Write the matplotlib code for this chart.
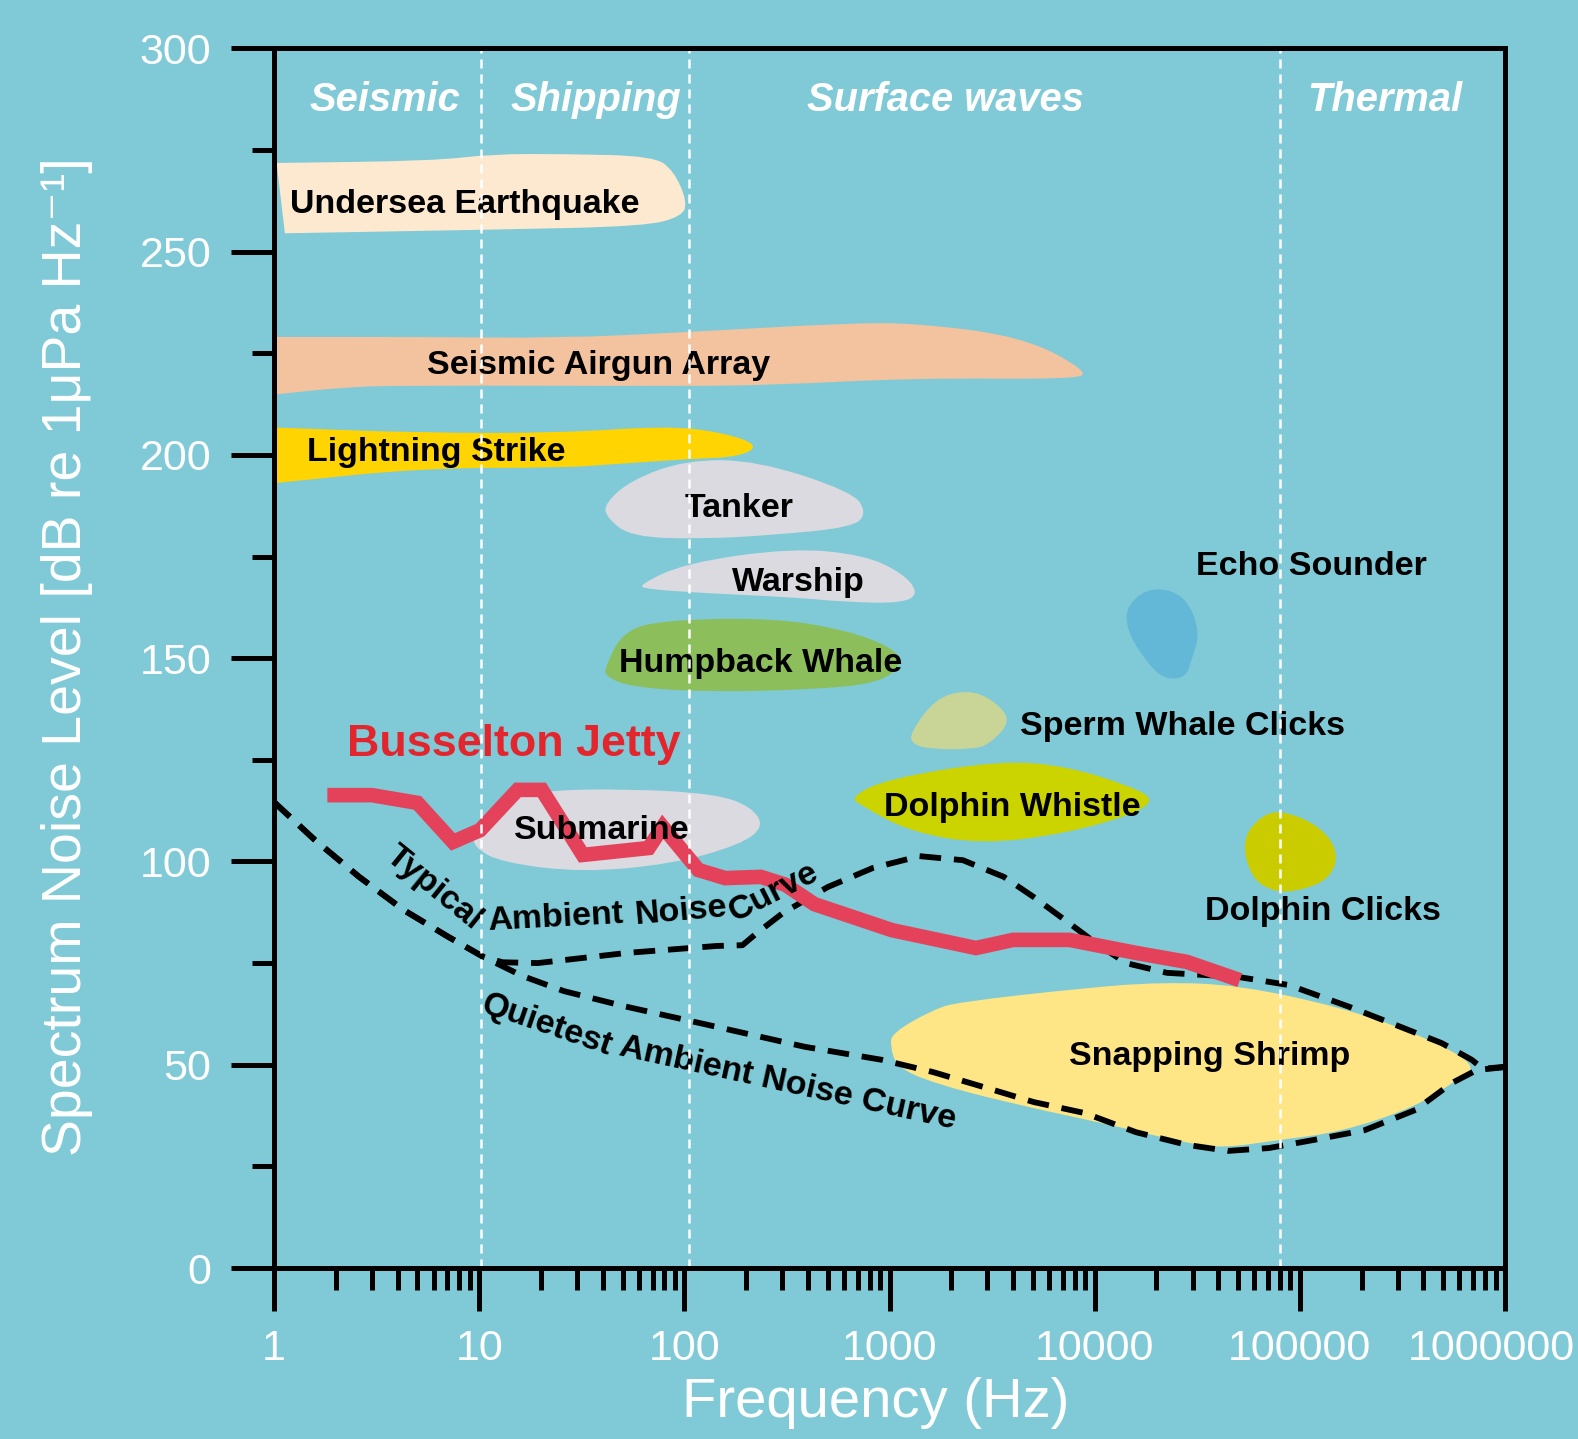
import matplotlib
matplotlib.use("Agg")
import numpy as np
import matplotlib.pyplot as plt
import matplotlib.transforms as mtransforms
from matplotlib.path import Path
from matplotlib.patches import PathPatch
from matplotlib.ticker import FixedLocator, FixedFormatter, MultipleLocator, LogLocator, NullFormatter

plt.rcParams['font.family'] = ['Liberation Sans', 'DejaVu Sans']

# ---------------- data ----------------
x_ticks = [1, 10, 100, 1000, 10000, 100000, 1000000]
x_tick_labels = ["1", "10", "100", "1000", "10000", "100000", "1000000"]
y_ticks = [0, 50, 100, 150, 200, 250, 300]

band_edges = [10.2, 105, 80000]
band_names = ["Seismic", "Shipping", "Surface waves", "Thermal"]
band_label_f = [3.49, 37, 1870, 2.6e5]
band_label_db = 287.3

typ_f = [1, 1.58, 2.6, 4.3, 7.1, 10.5, 13, 19.3, 52.5, 143, 192, 226, 302, 500, 830,
         1400, 2280, 3610, 5060, 7160, 10140, 14200, 22500, 49900, 88300, 175000,
         310000, 492000, 689000, 780000, 1000000]
typ_db = [114.6, 105.3, 96.2, 88.0, 81.4, 76.5, 75.2, 75.0, 77.5, 79.2, 79.4, 82.4, 87.3,
          93.7, 98.4, 101.3, 100.3, 96.2, 91.2, 85.6, 79.9, 75.0, 72.6, 71.6, 69.6, 64.2,
          59.3, 55.3, 51.2, 49.0, 49.5]

quiet_f = [1, 1.58, 2.6, 4.3, 7.1, 10.5, 16.3, 25.9, 50.8, 125, 387, 918, 1627, 2880,
           5060, 8960, 15900, 28100, 44600, 70600, 117000, 207000, 367000, 551000,
           729000, 1000000]
quiet_db = [114.6, 105.3, 96.2, 88.0, 81.4, 76.5, 71.8, 68.1, 64.4, 60.0, 54.4, 51.2,
            48.2, 44.5, 40.8, 38.1, 33.4, 30.3, 28.8, 29.5, 31.5, 33.9, 38.9, 45.5,
            48.7, 49.4]

jetty_f = [1.82, 3.0, 5.0, 7.45, 10.1, 15.4, 20.2, 32, 67, 78.5, 117, 158, 236, 310,
           430, 1027, 2640, 4000, 7550, 15900, 28100, 51000]
jetty_db = [116.3, 116.3, 114.4, 104.8, 107.7, 117.6, 117.6, 101.6, 103.3, 108.5, 97.9,
            95.9, 96.2, 94.3, 89.5, 83.1, 78.7, 80.7, 80.7, 77.5, 75.3, 70.8]

# source regions (outline: frequency in Hz, level in dB)
quake_f = [1.03, 5.9, 11.7, 25.8, 71, 89, 103, 98, 64, 11.7, 1.13]
quake_db = [271.8, 272.3, 274.0, 274.0, 273.5, 269.8, 262.4, 258.7, 256.2, 255.4, 254.5]

airgun_f = [1.03, 5.3, 24.8, 105, 613, 1360, 4520, 9370, 7920, 1360, 273, 105, 4.2, 2.15, 1.03]
airgun_db = [229.0, 229.0, 228.7, 230.2, 232.4, 232.4, 229.0, 220.4, 218.6, 218.9, 217.2,
             216.9, 217.1, 216.6, 214.9]

light_f = [1.03, 5.3, 24.8, 82, 151, 233, 185, 105, 45, 24.8, 5.3, 1.03]
light_db = [206.7, 205.4, 205.4, 207.1, 205.6, 202.4, 199.5, 199.0, 197.7, 196.8, 196.8, 193.1]

tanker_f = [41, 55, 101, 223, 663, 776, 663, 273, 123, 55, 41.5]
tanker_db = [188.1, 193.8, 198.7, 198.7, 190.9, 185.7, 182.2, 180.3, 179.3, 179.8, 184.7]

warship_f = [60, 101, 334, 750, 1160, 1390, 1160, 613, 334, 123, 65]
warship_db = [168.0, 173.4, 177.1, 175.4, 170.9, 166.0, 163.5, 163.8, 165.0, 166.0, 167.0]

hump_f = [41, 50.8, 82, 273, 613, 1027, 1162, 908, 409, 123, 55, 41.5]
hump_db = [147.8, 156.9, 159.4, 159.9, 156.9, 152.7, 148.8, 143.9, 142.2, 141.7, 142.9, 145.4]

echo_f = [14300, 19200, 28000, 32700, 29600, 27800, 21700, 17600, 14300]
echo_db = [163.2, 167.8, 165.2, 156.2, 149.5, 145.2, 144.8, 149.5, 156.9]

sperm_f = [1260, 1683, 2383, 3150, 3950, 3083, 2520, 1610, 1290]
sperm_db = [131.6, 140.2, 142.2, 140.0, 134.8, 128.8, 127.6, 127.6, 128.8]

dwhistle_f = [640, 971, 3410, 7240, 15350, 19600, 15350, 7240, 2790, 1244, 750]
dwhistle_db = [115.8, 120.3, 124.8, 123.5, 118.3, 115.1, 111.6, 106.9, 104.2, 107.4, 113.4]

dclick_f = [52000, 65300, 83600, 127000, 155000, 140400, 102300, 75500, 58000]
dclick_db = [105.3, 111.5, 112.5, 108.5, 102.1, 95.8, 92.9, 92.4, 95.8]

sub_f = [9.3, 11.7, 19.3, 52.5, 143, 213, 245, 185, 87, 32, 12.9, 9.4]
sub_db = [107.7, 114.4, 117.4, 117.9, 116.6, 113.4, 108.5, 104.0, 99.4, 97.3, 99.7, 103.5]

shrimp_f = [1027, 1627, 2155, 8960, 21200, 49900, 156700, 367000, 745000, 582000, 367000,
            156700, 79000, 42200, 28100, 12000, 3820, 1627, 1087, 1010]
shrimp_db = [57.8, 63.5, 65.4, 68.9, 70.3, 69.6, 64.2, 57.8, 49.9, 46.2, 39.6, 33.4, 31.5,
             29.5, 30.7, 35.2, 40.6, 45.5, 49.4, 54.4]

# (f, dB, colour, indices of sharp corners)
regions = [
    (quake_f, quake_db, "#fde9cf", [0, 10]),
    (airgun_f, airgun_db, "#f3c3a0", [0, 14]),
    (light_f, light_db, "#ffd400", [0, 11]),
    (tanker_f, tanker_db, "#dadae0", []),
    (warship_f, warship_db, "#dadae0", []),
    (hump_f, hump_db, "#8cbf5b", []),
    (echo_f, echo_db, "#64b8d7", []),
    (sperm_f, sperm_db, "#c9d497", []),
    (dwhistle_f, dwhistle_db, "#ccd400", []),
    (dclick_f, dclick_db, "#cbcc00", []),
    (sub_f, sub_db, "#dadae0", []),
    (shrimp_f, shrimp_db, "#fee586", []),
]

labels = ["Undersea Earthquake", "Seismic Airgun Array", "Lightning Strike", "Tanker",
          "Warship", "Humpback Whale", "Echo Sounder", "Sperm Whale Clicks",
          "Dolphin Whistle", "Dolphin Clicks", "Submarine", "Snapping Shrimp"]
label_f = [1.2, 38.3, 6.15, 184, 358, 236, 114500, 26700, 3960, 129700, 39.6, 36200]
label_db = [261.7, 222.1, 200.5, 186.7, 168.6, 148.8, 172.6, 133.2, 113.2, 87.7, 107.5, 52.0]
label_ha = ["left", "center", "center", "center", "center", "center", "center", "center",
            "center", "center", "center", "center"]

# labels along the ambient curves: (text, f, dB, rotation)
typ_pieces = [("Typical", 6.0, 93.5, -39), ("Ambient", 23.6, 86.1, 3),
              ("Noise", 97, 87.6, 5), ("Curve", 272, 92.4, 27)]
quiet_pieces = [("Quietest", 21.4, 59.6, -19), ("Ambient Noise Curve", 318, 45.4, -12.4)]


def smooth_region(fx, dy, sharp):
    """Closed outline; quadratic Bezier through segment mid-points (log-x space)."""
    lx = np.log10(fx)
    pts = np.column_stack([lx, dy])
    n = len(pts)
    mids = [(pts[i] + pts[(i + 1) % n]) / 2 for i in range(n)]
    verts = [mids[n - 1]]
    codes = [Path.MOVETO]
    for i in range(n):
        verts += [pts[i], mids[i]]
        if i in sharp:
            codes += [Path.LINETO, Path.LINETO]
        else:
            codes += [Path.CURVE3, Path.CURVE3]
    verts.append(mids[n - 1])
    codes.append(Path.CLOSEPOLY)
    v = np.array(verts)
    v[:, 0] = 10 ** v[:, 0]
    return Path(v, codes)


# ---------------- figure ----------------
BG = "#7fcad6"
fig = plt.figure(figsize=(15.78, 14.39), dpi=100, facecolor=BG)
ax = fig.add_axes([274 / 1578, 1 - 1268 / 1439, (1505 - 274) / 1578, (1268 - 48.3) / 1439])
ax.set_facecolor(BG)
ax.set_xscale("log")
ax.set_xlim(1, 1e6)
ax.set_ylim(0, 300)

for fx, dy, col, sharp in regions:
    ax.add_patch(PathPatch(smooth_region(fx, dy, sharp), facecolor=col, edgecolor="none",
                           transform=ax.transData, zorder=1))

ax.plot(typ_f, typ_db, color="black", lw=4.2, ls=(0, (3.7, 2.2)), zorder=3)
ax.plot(quiet_f, quiet_db, color="black", lw=4.2, ls=(0, (3.7, 2.2)), zorder=3)
ax.plot(jetty_f, jetty_db, color="#e4425a", lw=10.5, solid_capstyle="butt",
        solid_joinstyle="miter", zorder=4)

for t, fx, dy, ha in zip(labels, label_f, label_db, label_ha):
    ax.text(fx, dy, t, ha=ha, va="center", fontsize=24.5, fontweight="bold",
            color="black", zorder=6)

for t, fx, dy, r in typ_pieces + quiet_pieces:
    ax.text(fx, dy, t, ha="center", va="center", rotation=r, rotation_mode="anchor",
            fontsize=24.5, fontweight="bold", color="black", zorder=6)

ax.text(14.8, 128.7, "Busselton Jetty", ha="center", va="center", fontsize=32.3,
        fontweight="bold", color="#e3262e", zorder=6)

for t, fx in zip(band_names, band_label_f):
    ax.text(fx, band_label_db, t, ha="center", va="center", fontsize=28.7,
            fontweight="bold", style="italic", color="white", zorder=6)

for e in band_edges:
    ax.axvline(e, color="white", lw=1.8, ls=(0, (3.6, 2.4)), zorder=7)

# axes styling
for s in ax.spines.values():
    s.set_linewidth(3.6)
    s.set_color("black")
    s.set_zorder(8)

ax.xaxis.set_major_locator(FixedLocator(x_ticks))
ax.xaxis.set_major_formatter(FixedFormatter(x_tick_labels))
ax.xaxis.set_minor_locator(LogLocator(base=10, subs=[2, 3, 4, 5, 6, 7, 8, 9], numticks=20))
ax.xaxis.set_minor_formatter(NullFormatter())
ax.yaxis.set_major_locator(FixedLocator(y_ticks))
ax.yaxis.set_minor_locator(MultipleLocator(25))

ax.tick_params(which="major", direction="out", length=31, width=3.6, color="black",
               labelsize=31, labelcolor="white")
ax.tick_params(which="minor", direction="out", length=16, width=3.6, color="black")
ax.tick_params(axis="x", which="major", pad=13)
ax.tick_params(axis="y", which="major", pad=14)
ax.tick_params(top=False, right=False, which="both")

# keep the last tick label inside the figure
last = ax.get_xticklabels()[-1]
last.set_transform(last.get_transform() +
                   mtransforms.ScaledTranslation(-14 / 100, 0, fig.dpi_scale_trans))

ax.set_xlabel("Frequency (Hz)", fontsize=40.5, color="white")
ax.set_ylabel("Spectrum Noise Level [dB re 1μPa Hz⁻¹]", fontsize=40, color="white")
ax.xaxis.set_label_coords(0.489, -0.089)
ax.yaxis.set_label_coords(-0.147, 0.501)

fig.savefig("out.png", dpi=100, facecolor=BG)
